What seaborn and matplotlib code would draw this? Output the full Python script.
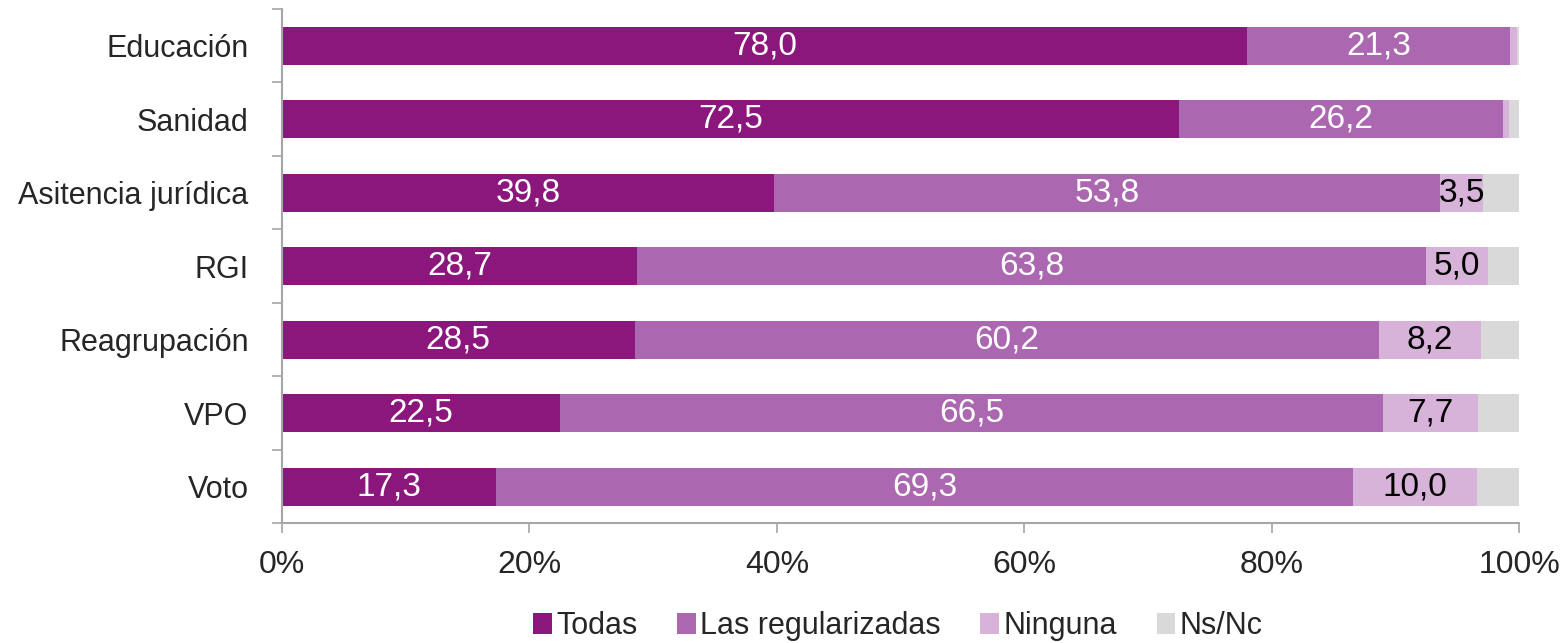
import matplotlib
matplotlib.use("Agg")
import matplotlib.pyplot as plt
import numpy as np
import pandas as pd
import seaborn as sns
from matplotlib.patches import Patch
from matplotlib.ticker import FixedLocator, PercentFormatter

# datos
categorias = ["Educación", "Sanidad", "Asitencia jurídica", "RGI", "Reagrupación", "VPO", "Voto"]
todas = [78.0, 72.5, 39.8, 28.7, 28.5, 22.5, 17.3]
regularizadas = [21.3, 26.2, 53.8, 63.8, 60.2, 66.5, 69.3]
ninguna = [0.5, 0.5, 3.5, 5.0, 8.2, 7.7, 10.0]
ns_nc = [0.2, 0.8, 2.9, 2.5, 3.1, 3.3, 3.4]

series = ["Todas", "Las regularizadas", "Ninguna", "Ns/Nc"]
colores = ["#8B167C", "#AB67AF", "#D8B3D9", "#D9D9D9"]
color_texto = ["white", "white", "black", "black"]

sns.set_theme(style="white")
plt.rcParams["font.family"] = ["Liberation Sans", "DejaVu Sans"]

df = pd.DataFrame(
    {"categoria": categorias, "Todas": todas, "Las regularizadas": regularizadas,
     "Ninguna": ninguna, "Ns/Nc": ns_nc}
)
acum = df[series].cumsum(axis=1)

fig, ax = plt.subplots(figsize=(15.67, 6.43), dpi=100)
fig.subplots_adjust(left=0.18, right=0.9694, top=0.986, bottom=0.186)

# barras apiladas: de la acumulada mayor a la menor
for serie, color in reversed(list(zip(series, colores))):
    sns.barplot(x=acum[serie], y=df["categoria"], color=color, width=0.52,
                saturation=1, linewidth=0, orient="h", ax=ax)

# etiquetas de valores
for j, serie in enumerate(series):
    izquierda = acum[serie] - df[serie]
    for i, valor in enumerate(df[serie]):
        if valor < 3 or serie == "Ns/Nc":
            continue
        ax.text(izquierda[i] + valor / 2, i, f"{valor:.1f}".replace(".", ","),
                ha="center", va="center", fontsize=24, color=color_texto[j])

ax.set_xlim(0, 100)
ax.set_ylim(6.5, -0.5)
ax.set_xlabel("")
ax.set_ylabel("")
ax.xaxis.set_major_locator(FixedLocator([0, 20, 40, 60, 80, 100]))
ax.xaxis.set_major_formatter(PercentFormatter(decimals=0))

gris = "#A6A6A6"
for lado in ["top", "right"]:
    ax.spines[lado].set_visible(False)
for lado in ["left", "bottom"]:
    ax.spines[lado].set_color(gris)
    ax.spines[lado].set_linewidth(1.5)

ax.tick_params(axis="x", direction="out", length=7, width=1.2, color=gris,
               labelsize=23, pad=12, bottom=True)
ax.tick_params(axis="y", which="major", length=0, labelsize=22, pad=24)
ax.yaxis.set_minor_locator(FixedLocator(np.arange(-0.5, 7, 1)))
ax.tick_params(axis="y", which="minor", direction="out", length=7, width=1.2,
               color=gris, left=True)
ax.grid(False)

handles = [Patch(facecolor=c, edgecolor="none", label=s) for s, c in zip(series, colores)]
fig.legend(handles=handles, loc="center", bbox_to_anchor=(0.573, 0.026), ncol=4,
           frameon=False, fontsize=22, handlelength=0.6, handleheight=0.7,
           handletextpad=0.15, columnspacing=1.3)

fig.savefig("out.png", dpi=100)
